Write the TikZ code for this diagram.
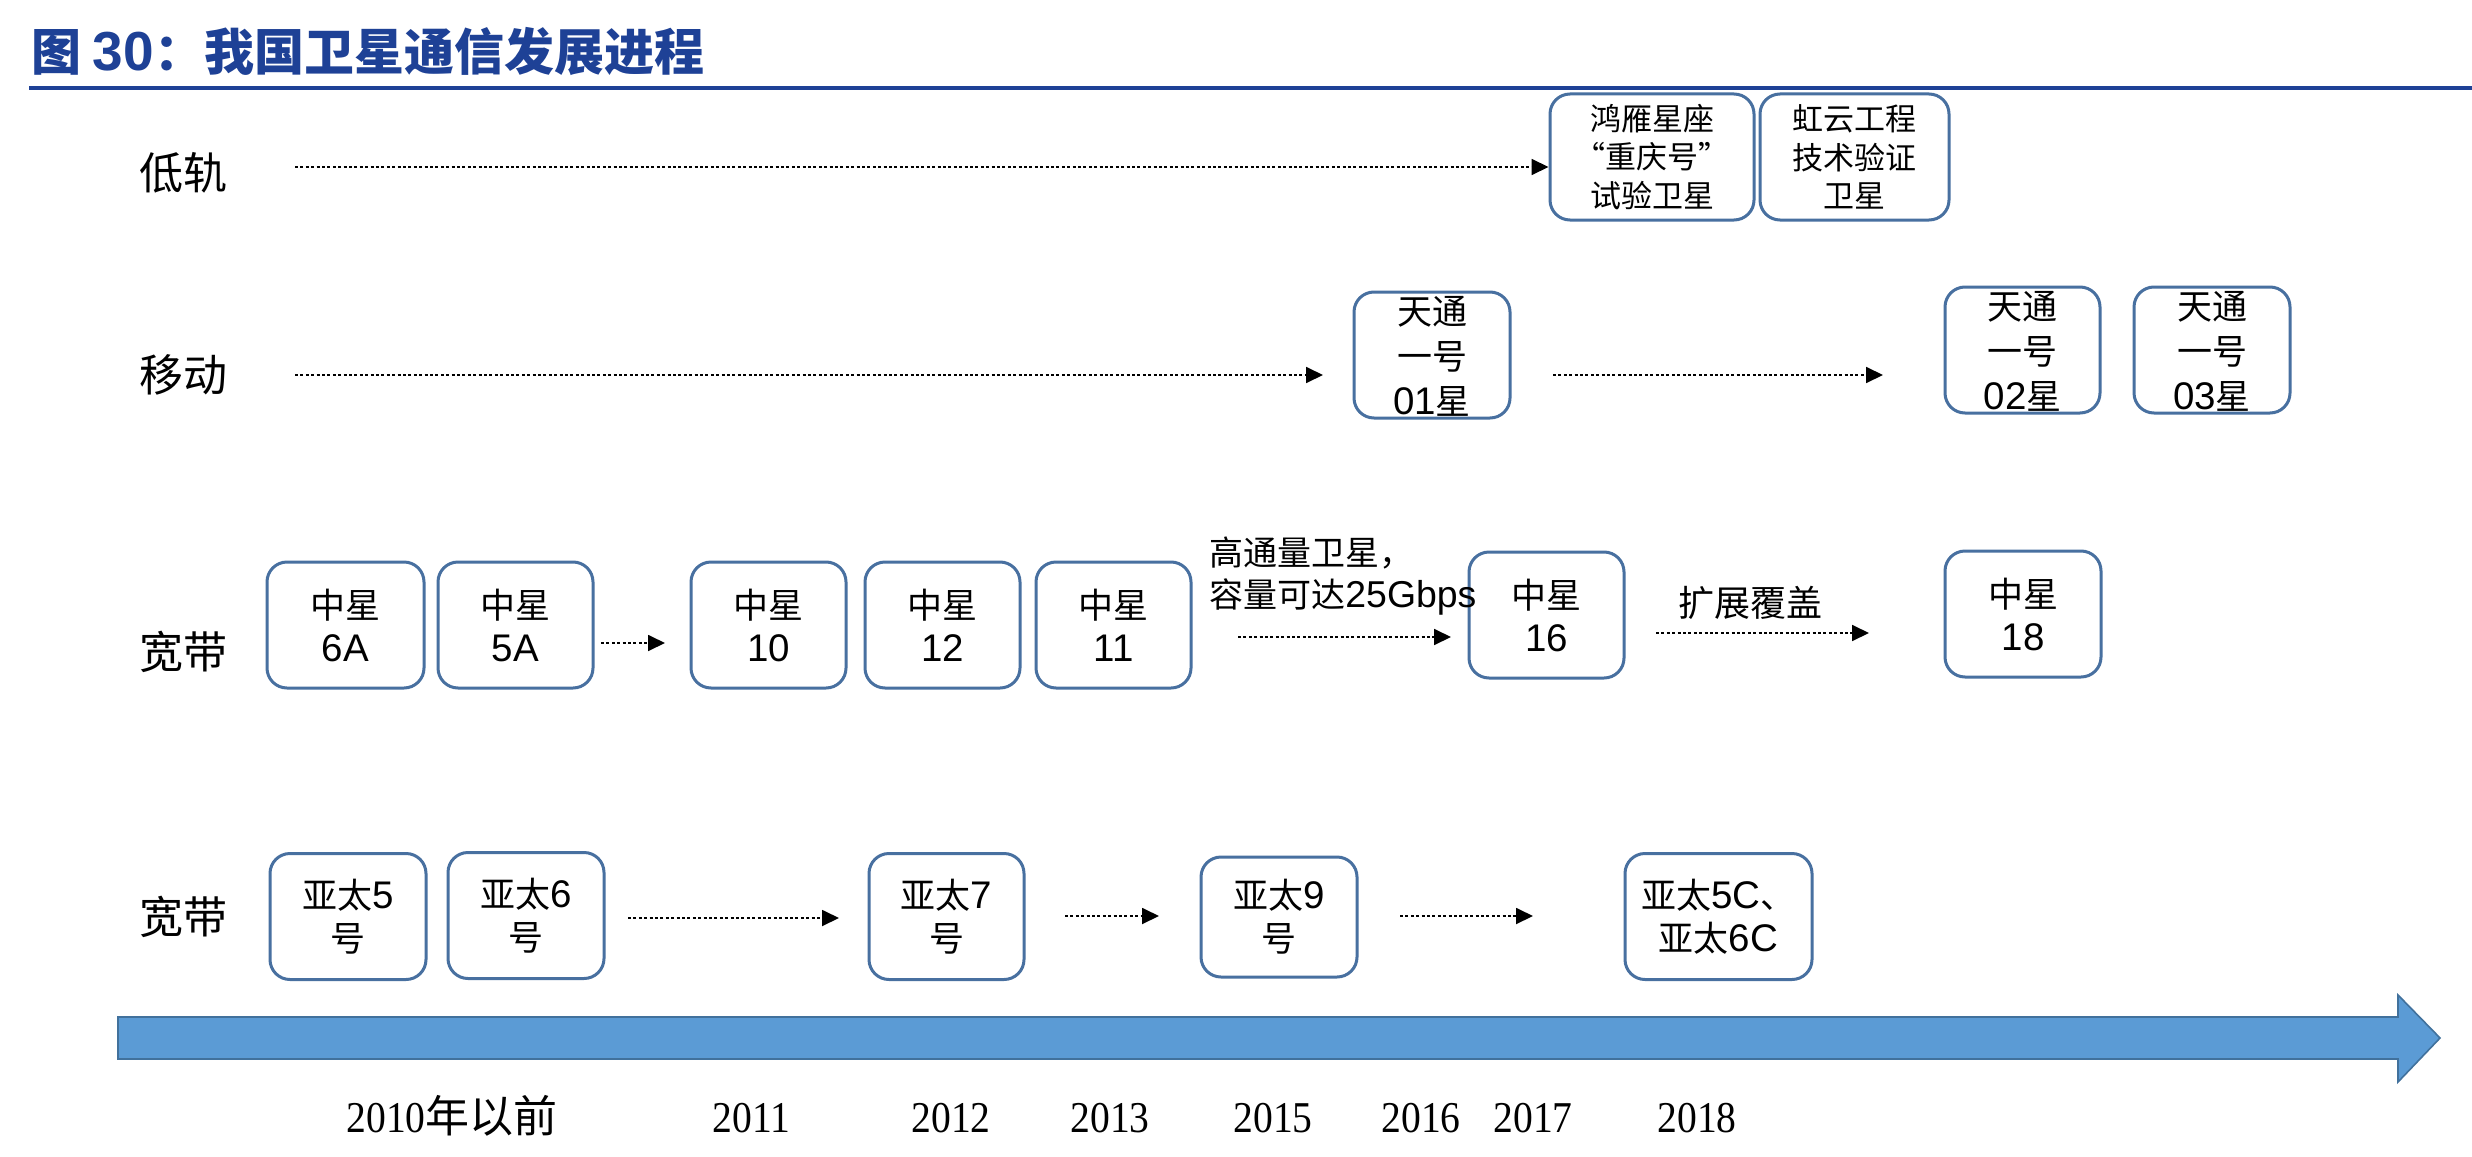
\documentclass[tikz,border=0pt]{standalone}
\usepackage{fontspec}
\setmainfont{Noto Sans CJK SC}
\newfontfamily\lat[Scale=1.1]{Liberation Sans}
\newfontfamily\tms[FakeStretch=0.9]{Liberation Serif}
\usetikzlibrary{arrows.meta}
\definecolor{titleblue}{RGB}{30,65,150}
\definecolor{boxblue}{RGB}{72,112,160}
\definecolor{barfill}{RGB}{91,155,213}
\definecolor{baredge}{RGB}{65,113,156}
\begin{document}
\begin{tikzpicture}[x=0.5pt,y=-0.5pt,
  box/.style={draw=boxblue,line width=1.5pt,rounded corners=10pt,inner sep=0pt,align=center,
    font=\fontsize{17.5}{21.5}\selectfont,minimum height=63pt,minimum width=78pt},
  box3/.style={box,font=\fontsize{17.5}{22.5}\selectfont},
  boxs/.style={box,font=\fontsize{15.5}{19.25}\selectfont},
  lab/.style={font=\fontsize{22}{26}\selectfont,inner sep=0pt},
  note/.style={font=\fontsize{17}{20}\selectfont,inner sep=0pt},
  flow/.style={-{Triangle[length=8.5pt,width=8pt]},dash pattern=on 1.5pt off 1.2pt,line width=0.9pt},
  yr/.style={font=\fontsize{22}{26}\selectfont,anchor=base,inner sep=0pt}]
\useasboundingbox (0,0) rectangle (2472,1156);
\fill[white] (0,0) rectangle (2472,1156);
% title
\node[anchor=west,inner sep=0pt,text=titleblue,font=\bfseries\fontsize{25}{29}\selectfont] (title) at (31,52)
  {图 {\lat\bfseries 30}：我国卫星通信发展进程};
\draw[titleblue,line width=2pt] (29,88) -- (2472,88);
% row labels
\node[lab] (r1) at (183,173) {低轨};
\node[lab] (r2) at (183,375) {移动};
\node[lab] (r3) at (183,652) {宽带};
\node[lab] (r4) at (183,917) {宽带};
% row 1
\node[boxs,minimum width=102pt] (hy) at (1652,157) {鸿雁星座\\“重庆号”\\试验卫星};
\node[boxs,minimum width=94.5pt] (hyun) at (1854.5,157) {虹云工程\\技术验证\\卫星};
\coordinate (a1s) at (295,167);
\draw[flow] (a1s) -- (a1s -| hy.west);
% row 2
\node[box3] (tt1) at (1432,355) {\rule{0pt}{15pt}天通\\一号\\{\lat 01}星};
\node[box3,minimum width=77.5pt] (tt2) at (2022.5,350) {\rule{0pt}{15pt}天通\\一号\\{\lat 02}星};
\node[box3] (tt3) at (2212,350) {\rule{0pt}{15pt}天通\\一号\\{\lat 03}星};
\coordinate (a2s) at (295,375);
\coordinate (a2e) at (1323,375);
\draw[flow] (a2s) -- (a2e);
\coordinate (a3s) at (1553,375);
\coordinate (a3e) at (1883,375);
\draw[flow] (a3s) -- (a3e);
% row 3
\node[box,minimum width=78.5pt] (z6a) at (345.5,625) {中星\\{\lat 6A}};
\node[box,minimum width=77.5pt] (z5a) at (515.5,625) {中星\\{\lat 5A}};
\node[box,minimum width=77.5pt] (z10) at (768.5,625) {中星\\{\lat 10}};
\node[box,minimum width=77.5pt] (z12) at (942.5,625) {中星\\{\lat 12}};
\node[box,minimum width=77.5pt] (z11) at (1113.5,625) {中星\\{\lat 11}};
\node[box,minimum width=77.5pt] (z16) at (1546.5,615) {中星\\{\lat 16}};
\node[box] (z18) at (2023,614) {中星\\{\lat 18}};
\coordinate (a4s) at (601,643);
\coordinate (a4e) at (665,643);
\draw[flow] (a4s) -- (a4e);
\node[note,anchor=west] (n1) at (1209,553) {高通量卫星，};
\node[note,anchor=west] (n2) at (1209,597) {容量可达{\lat 25Gbps}};
\coordinate (a5s) at (1238,637);
\coordinate (a5e) at (1451,637);
\draw[flow] (a5s) -- (a5e);
\node[note,font=\fontsize{18}{20}\selectfont] (n3) at (1750,603) {扩展覆盖};
\coordinate (a6s) at (1656,633);
\coordinate (a6e) at (1869,633);
\draw[flow] (a6s) -- (a6e);
% row 4
\node[box] (y5) at (348,916.5) {亚太{\lat 5}\\号};
\node[box] (y6) at (526,915.5) {亚太{\lat 6}\\号};
\node[box,minimum width=77.5pt] (y7) at (946.5,916.5) {亚太{\lat 7}\\号};
\node[box,minimum height=60pt] (y9) at (1279,917) {亚太{\lat 9}\\号};
\node[box,minimum width=93.5pt] (y5c) at (1718.5,916.5) {亚太{\lat 5C}、\\亚太{\lat 6C}};
\coordinate (a7s) at (628,918);
\coordinate (a7e) at (839,918);
\draw[flow] (a7s) -- (a7e);
\coordinate (a8s) at (1065,916);
\coordinate (a8e) at (1159,916);
\draw[flow] (a8s) -- (a8e);
\coordinate (a9s) at (1400,916);
\coordinate (a9e) at (1533,916);
\draw[flow] (a9s) -- (a9e);
% timeline arrow
\filldraw[fill=barfill,draw=baredge,line width=0.8pt]
  (118,1017) -- (2398,1017) -- (2398,995) -- (2440,1038) -- (2398,1082) -- (2398,1059) -- (118,1059) -- cycle;
% years
\node[yr] (y2010) at (452,1132) {{\tms 2010}年以前};
\node[yr,font=\tms\fontsize{22}{26}\selectfont] (y2011) at (751.5,1132) {2011};
\node[yr,font=\tms\fontsize{22}{26}\selectfont] (y2012) at (951,1132) {2012};
\node[yr,font=\tms\fontsize{22}{26}\selectfont] (y2013) at (1110,1132) {2013};
\node[yr,font=\tms\fontsize{22}{26}\selectfont] (y2015) at (1273,1132) {2015};
\node[yr,font=\tms\fontsize{22}{26}\selectfont] (y2016) at (1421,1132) {2016};
\node[yr,font=\tms\fontsize{22}{26}\selectfont] (y2017) at (1533,1132) {2017};
\node[yr,font=\tms\fontsize{22}{26}\selectfont] (y2018) at (1697,1132) {2018};
\end{tikzpicture}
\end{document}
